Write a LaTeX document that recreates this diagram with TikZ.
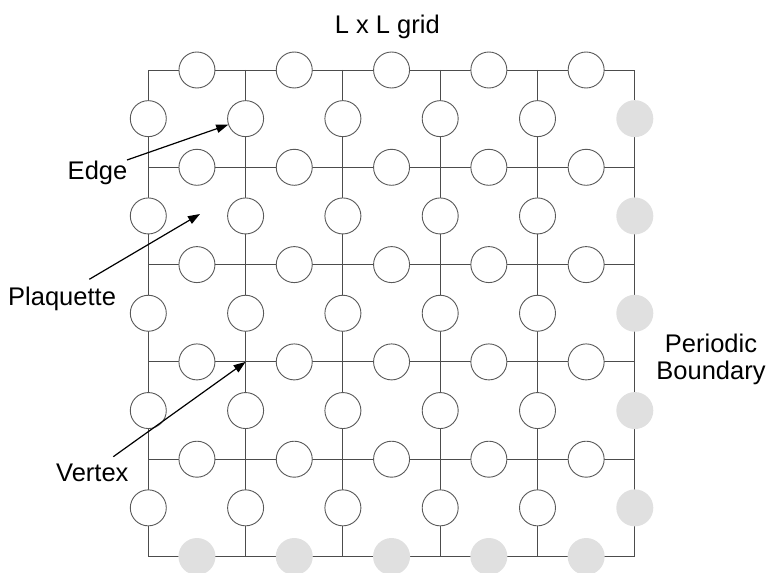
\documentclass[tikz,border=0pt]{standalone}
\usepackage{fontspec}
\setmainfont{Liberation Sans}
\usetikzlibrary{arrows.meta}
\begin{document}
\begin{tikzpicture}[x=1pt,y=-1pt,
  gridline/.style={draw=black!70, line width=0.9pt},
  qubit/.style={circle, draw=black!65, fill=white, line width=0.9pt,
    minimum size=36pt, inner sep=0pt},
  ghost/.style={circle, fill=black!12, draw=none, minimum size=37pt, inner sep=0pt},
  lbl/.style={font=\fontsize{25.5}{27.6}\selectfont, inner sep=0pt},
  pointer/.style={draw=black, line width=1.2pt, -{Triangle[length=12pt,width=8.5pt]}}]
\useasboundingbox (0,0) rectangle (767,572);

% lattice vertices
\foreach \i in {0,...,5}
  \foreach \j in {0,...,5}
    \coordinate (v-\i-\j) at ({148.3+97.3*\i},{70+97.3*\j});

% lattice lines
\draw[gridline] (v-0-0) rectangle (v-5-5);
\foreach \k in {1,...,4} {
  \draw[gridline] (v-0-\k) -- (v-5-\k);
  \draw[gridline] (v-\k-0) -- (v-\k-5);
}

% qubits on horizontal edges (last row repeats the first: periodic)
\foreach \i in {0,...,4} {
  \foreach \j in {0,...,4}
    \node[qubit] (h-\i-\j) at ({148.3+97.3*(\i+0.5)},{70+97.3*\j}) {};
  \node[ghost] (h-\i-5) at ({148.3+97.3*(\i+0.5)},{70+97.3*5}) {};
}
% qubits on vertical edges (last column repeats the first: periodic)
\foreach \j in {0,...,4} {
  \foreach \i in {0,...,4}
    \node[qubit] (u-\i-\j) at ({148.3+97.3*\i},{70+97.3*(\j+0.5)}) {};
  \node[ghost] (u-5-\j) at ({148.3+97.3*5},{70+97.3*(\j+0.5)}) {};
}

% labels
\node[lbl, anchor=base] (title) at (387.3,33.3) {L x L grid};
\node[lbl, anchor=base east] (edge) at (127.5,179.3) {Edge};
\node[lbl, anchor=base west] (plaquette) at (8,305) {Plaquette};
\node[lbl, anchor=base west] (vertex) at (56,481) {Vertex};
\node[lbl, align=center] (boundary) at (711,359.3) {Periodic\\Boundary};

% pointers
\coordinate (edge-tail) at (127,160);
\coordinate (plaquette-tail) at (89.3,279.3);
\coordinate (vertex-tail) at (113.3,456.7);
\coordinate (plaquette-centre) at (200,214);
\draw[pointer] (edge-tail) -- (u-1-0);
\draw[pointer] (plaquette-tail) -- (plaquette-centre);
\draw[pointer] (vertex-tail) -- (v-1-3);
\end{tikzpicture}
\end{document}
